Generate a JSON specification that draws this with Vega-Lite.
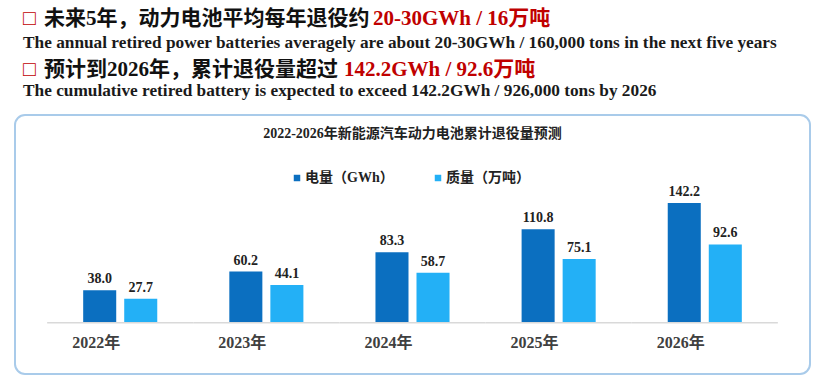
{
  "$schema": "https://vega.github.io/schema/vega-lite/v6.json",
  "background": "white",
  "padding": {"left": 14, "top": 7, "right": 5, "bottom": 4},
  "config": {"view": {"stroke": null}, "font": "Liberation Serif, Noto Sans CJK SC"},
  "datasets": {
    "bars": [
      {"year": "2022年", "series": "电量（GWh）", "value": 38.0},
      {"year": "2022年", "series": "质量（万吨）", "value": 27.7},
      {"year": "2023年", "series": "电量（GWh）", "value": 60.2},
      {"year": "2023年", "series": "质量（万吨）", "value": 44.1},
      {"year": "2024年", "series": "电量（GWh）", "value": 83.3},
      {"year": "2024年", "series": "质量（万吨）", "value": 58.7},
      {"year": "2025年", "series": "电量（GWh）", "value": 110.8},
      {"year": "2025年", "series": "质量（万吨）", "value": 75.1},
      {"year": "2026年", "series": "电量（GWh）", "value": 142.2},
      {"year": "2026年", "series": "质量（万吨）", "value": 92.6}
    ],
    "years": [
      {"year": "2022年"}, {"year": "2023年"}, {"year": "2024年"}, {"year": "2025年"}, {"year": "2026年"}
    ]
  },
  "spacing": 6,
  "resolve": {"scale": {"color": "independent"}, "legend": {"color": "independent"}},
  "vconcat": [
    {
      "hconcat": [
        {"width": 8, "height": 1, "data": {"values": []}, "mark": "point"},
        {"width": 21, "height": 1, "data": {"values": []}, "mark": "point",
         "title": {"text": "□", "anchor": "start", "frame": "group", "offset": 0, "color": "#c00000", "fontSize": 21, "fontWeight": "bold", "font": "Liberation Serif, Noto Sans CJK SC",
                   "subtitle": "The annual retired power batteries averagely are about 20-30GWh / 160,000 tons in the next five years",
                   "subtitleFont": "Liberation Serif", "subtitleFontSize": 17.3, "subtitleFontWeight": "bold", "subtitleColor": "#1a1a1a", "subtitlePadding": 5}},
        {"width": 329, "height": 1, "data": {"values": []}, "mark": "point",
         "title": {"text": "未来5年，动力电池平均每年退役约", "anchor": "start", "frame": "group", "offset": 0, "color": "#111111", "fontSize": 21, "fontWeight": "bold", "font": "Liberation Serif, Noto Sans CJK SC",
                   "subtitle": " ", "subtitleFont": "Liberation Serif", "subtitleFontSize": 17.3, "subtitleFontWeight": "bold", "subtitlePadding": 5}},
        {"width": 200, "height": 1, "data": {"values": []}, "mark": "point",
         "title": {"text": "20-30GWh / 16万吨", "anchor": "start", "frame": "group", "offset": 0, "color": "#c00000", "fontSize": 21, "fontWeight": "bold", "font": "Liberation Serif, Noto Sans CJK SC",
                   "subtitle": " ", "subtitleFont": "Liberation Serif", "subtitleFontSize": 17.3, "subtitleFontWeight": "bold", "subtitlePadding": 5}}
      ],
      "spacing": 0,
      "bounds": "flush"
    },
    {
      "hconcat": [
        {"width": 8, "height": 9, "data": {"values": []}, "mark": "point"},
        {"width": 21, "height": 9, "data": {"values": []}, "mark": "point",
         "title": {"text": "□", "anchor": "start", "frame": "group", "offset": 0, "color": "#c00000", "fontSize": 21, "fontWeight": "bold", "font": "Liberation Serif, Noto Sans CJK SC",
                   "subtitle": "The cumulative retired battery is expected to exceed 142.2GWh / 926,000 tons by 2026",
                   "subtitleFont": "Liberation Serif", "subtitleFontSize": 17.3, "subtitleFontWeight": "bold", "subtitleColor": "#1a1a1a", "subtitlePadding": 2}},
        {"width": 300, "height": 9, "data": {"values": []}, "mark": "point",
         "title": {"text": "预计到2026年，累计退役量超过", "anchor": "start", "frame": "group", "offset": 0, "color": "#111111", "fontSize": 21, "fontWeight": "bold", "font": "Liberation Serif, Noto Sans CJK SC",
                   "subtitle": " ", "subtitleFont": "Liberation Serif", "subtitleFontSize": 17.3, "subtitleFontWeight": "bold", "subtitlePadding": 2}},
        {"width": 200, "height": 9, "data": {"values": []}, "mark": "point",
         "title": {"text": "142.2GWh / 92.6万吨", "anchor": "start", "frame": "group", "offset": 0, "color": "#c00000", "fontSize": 21, "fontWeight": "bold", "font": "Liberation Serif, Noto Sans CJK SC",
                   "subtitle": " ", "subtitleFont": "Liberation Serif", "subtitleFontSize": 17.3, "subtitleFontWeight": "bold", "subtitlePadding": 2}}
      ],
      "spacing": 0,
      "bounds": "flush"
    },
    {
      "width": 795,
      "height": 259,
      "view": {"stroke": "#a9cbea", "strokeWidth": 2, "cornerRadius": 10},
      "title": {"text": "2022-2026年新能源汽车动力电池累计退役量预测", "anchor": "middle", "offset": -26, "fontSize": 14, "fontWeight": "bold", "color": "#222222", "font": "Liberation Serif, Noto Sans CJK SC"},
      "layer": [
        {
          "data": {"name": "years"},
          "mark": {"type": "rect", "color": "#d9d9d9"},
          "encoding": {
            "x": {"field": "year", "type": "nominal", "sort": null, "scale": {"paddingInner": 0, "paddingOuter": 0.22}},
            "y": {"datum": 0, "type": "quantitative", "scale": {"domain": [-62.1, 247.2], "nice": false, "zero": false}, "axis": null},
            "y2": {"datum": -1.8}
          }
        },
        {
          "data": {"name": "bars"},
          "mark": {"type": "bar"},
          "encoding": {
            "x": {"field": "year", "type": "nominal", "sort": null, "scale": {"paddingInner": 0, "paddingOuter": 0.22},
                  "axis": {"orient": "bottom", "offset": -52, "domain": false, "ticks": false, "tickSize": 0, "labelPadding": 20, "labelFontSize": 16, "labelFontWeight": "bold", "labelColor": "#404040", "labelFont": "Liberation Serif, Noto Sans CJK SC", "title": null, "labelAngle": 0, "grid": false}},
            "xOffset": {"field": "series", "type": "nominal", "scale": {"domain": ["电量（GWh）", "质量（万吨）"], "paddingInner": 0.195, "paddingOuter": 0.878}},
            "y": {"field": "value", "type": "quantitative", "scale": {"domain": [-62.1, 247.2], "nice": false, "zero": false}, "axis": null},
            "y2": {"datum": 0},
            "color": {"field": "series", "type": "nominal",
                      "scale": {"domain": ["电量（GWh）", "质量（万吨）"], "range": ["#0b6fc0", "#23b0f6"]},
                      "legend": {"orient": "none", "legendX": 275, "legendY": 56, "direction": "horizontal", "title": null, "symbolType": "square", "symbolSize": 42, "symbolStrokeWidth": 0, "labelFont": "Liberation Serif, Noto Sans CJK SC", "labelFontSize": 14, "labelFontWeight": "bold", "labelColor": "#222222", "labelOffset": 1, "columnPadding": 37}}
          }
        },
        {
          "data": {"name": "bars"},
          "mark": {"type": "text", "baseline": "alphabetic", "dy": -7, "fontSize": 14, "fontWeight": "bold", "color": "#222222", "font": "Liberation Serif, Noto Sans CJK SC"},
          "encoding": {
            "x": {"field": "year", "type": "nominal", "sort": null},
            "xOffset": {"field": "series", "type": "nominal"},
            "y": {"field": "value", "type": "quantitative"},
            "text": {"field": "value", "type": "quantitative", "format": ".1f"}
          }
        }
      ]
    }
  ]
}
